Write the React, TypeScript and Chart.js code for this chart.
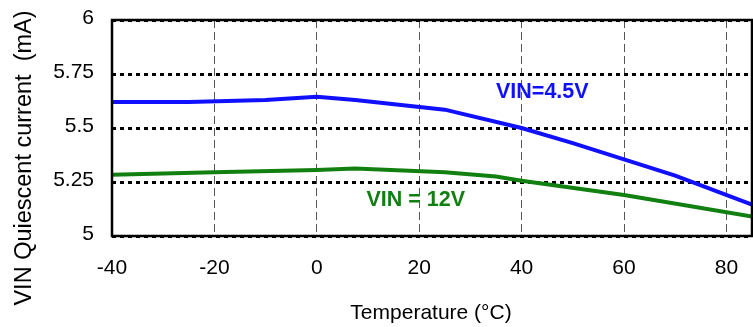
import { useEffect, useRef } from "react";
import { Chart, registerables } from "chart.js";

Chart.register(...registerables);

// Quiescent current vs temperature, two input voltages
const tempVin45 = [-40, -25, -10, 0, 7.5, 25, 40, 50, 60, 70, 85];
const iqVin45 = [5.62, 5.62, 5.63, 5.645, 5.63, 5.585, 5.5, 5.43, 5.355, 5.28, 5.145];
const tempVin12 = [-40, -20, 0, 7.5, 25, 35, 40, 60, 85];
const iqVin12 = [5.284, 5.295, 5.305, 5.312, 5.295, 5.275, 5.256, 5.19, 5.09];

const xTickValues = [-40, -20, 0, 20, 40, 60, 80];
const yTickValues = [5, 5.25, 5.5, 5.75, 6];

const seriesNames = ["VIN=4.5V", "VIN = 12V"];
const seriesColors = ["#1010ff", "#118011"];
const xTitle = "Temperature (\u00b0C)";
const yTitle = "VIN Quiescent current  (mA)";

const FONT = '"Liberation Sans", Arial, sans-serif';

const decorations = {
  id: "decorations",
  afterDatasetsDraw(chart: any) {
    const { ctx, chartArea: a, scales } = chart;
    const xs = scales.x;
    const ys = scales.y;
    ctx.save();

    // plot frame
    ctx.setLineDash([]);
    ctx.strokeStyle = "#000";
    ctx.lineWidth = 2.5;
    ctx.strokeRect(a.left, a.top, a.right - a.left, a.bottom - a.top);

    // in-plot series labels
    ctx.font = `bold 21.5px ${FONT}`;
    ctx.textAlign = "left";
    ctx.textBaseline = "middle";
    ctx.fillStyle = seriesColors[0];
    ctx.fillText(seriesNames[0], xs.getPixelForValue(35), ys.getPixelForValue(5.664));
    ctx.fillStyle = seriesColors[1];
    ctx.fillText(seriesNames[1], xs.getPixelForValue(9.7), ys.getPixelForValue(5.166));

    // axis titles
    ctx.fillStyle = "#000";
    ctx.font = `21px ${FONT}`;
    ctx.textAlign = "center";
    ctx.fillText(xTitle, (a.left + a.right) / 2 - 1, 313);

    ctx.font = `23.5px ${FONT}`;
    ctx.translate(25, 158);
    ctx.rotate(-Math.PI / 2);
    ctx.fillText(yTitle, 0, 0);

    ctx.restore();
  },
};

export default function App() {
  const canvasRef = useRef<HTMLCanvasElement | null>(null);

  useEffect(() => {
    if (!canvasRef.current) return;
    const chart = new Chart(canvasRef.current, {
      type: "line",
      data: {
        datasets: [
          {
            label: seriesNames[0],
            data: tempVin45.map((t, i) => ({ x: t, y: iqVin45[i] })),
            borderColor: seriesColors[0],
            borderWidth: 4,
            pointRadius: 0,
            tension: 0,
          },
          {
            label: seriesNames[1],
            data: tempVin12.map((t, i) => ({ x: t, y: iqVin12[i] })),
            borderColor: seriesColors[1],
            borderWidth: 4,
            pointRadius: 0,
            tension: 0,
          },
        ],
      },
      options: {
        responsive: false,
        animation: false,
        layout: { padding: { top: 20, right: 1, left: 0, bottom: 0 } },
        plugins: {
          legend: { display: false },
          tooltip: { enabled: false },
        },
        scales: {
          x: {
            type: "linear",
            min: -40,
            max: 85,
            afterFit: (s: any) => {
              s.height = 91;
              s.paddingLeft = 0;
              s.paddingRight = 0;
            },
            afterBuildTicks: (s: any) => {
              s.ticks = xTickValues.map((v) => ({ value: v }));
            },
            ticks: {
              color: "#000",
              font: { family: FONT, size: 21 },
              padding: 20,
              maxRotation: 0,
              callback: (v: any) => String(v),
            },
            grid: { color: "#555", lineWidth: 1, drawTicks: false },
            border: { display: false, dash: [8, 4] },
          },
          y: {
            type: "linear",
            min: 5,
            max: 6,
            afterFit: (s: any) => {
              s.width = 112;
              s.paddingTop = 0;
              s.paddingBottom = 0;
            },
            afterBuildTicks: (s: any) => {
              s.ticks = yTickValues.map((v) => ({ value: v }));
            },
            ticks: {
              color: "#000",
              font: { family: FONT, size: 21 },
              padding: 18,
              labelOffset: -2,
              callback: (v: any) => String(v),
            },
            grid: { color: "#000", lineWidth: 3, drawTicks: false },
            border: { display: false, dash: [4, 4] },
          },
        },
      },
      plugins: [decorations],
    });
    return () => chart.destroy();
  }, []);

  return (
    <div style={{ position: "absolute", left: 0, top: 0, width: 753, height: 327, background: "#fff" }}>
      <canvas ref={canvasRef} width={753} height={327} style={{ display: "block" }} />
    </div>
  );
}
